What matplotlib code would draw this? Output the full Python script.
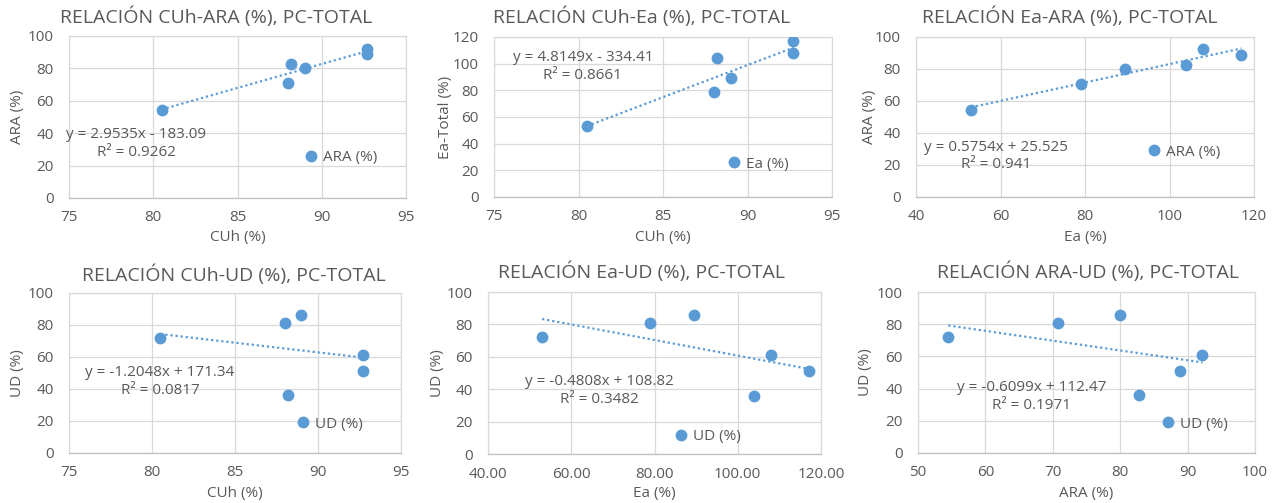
import numpy as np
import matplotlib
matplotlib.use("Agg")
import matplotlib.pyplot as plt

plt.rcParams['font.family'] = ['Open Sans', 'DejaVu Sans']

# values (same 6 samples in every panel)
cuh = [80.5, 88.0, 88.2, 89.0, 92.7, 92.7]
ara = [54.5, 70.8, 82.8, 80.0, 92.2, 88.8]
ea = [53.0, 79.0, 104.0, 89.5, 108.0, 117.0]
ud = [72.0, 81.0, 36.0, 86.0, 61.0, 51.0]

# trendline coefficients shown on the chart
slopes = [2.9535, 4.8149, 0.5754, -1.2048, -0.4808, -0.6099]
intercepts = [-183.09, -334.41, 25.525, 171.34, 108.82, 112.47]
r2_labels = ["0.9262", "0.8661", "0.941", "0.0817", "0.3482", "0.1971"]

titles = ["RELACIÓN CUh-ARA (%), PC-TOTAL", "RELACIÓN CUh-Ea (%), PC-TOTAL",
          "RELACIÓN Ea-ARA (%), PC-TOTAL", "RELACIÓN CUh-UD (%), PC-TOTAL",
          "RELACIÓN Ea-UD (%), PC-TOTAL", "RELACIÓN ARA-UD (%), PC-TOTAL"]
xlabels = ["CUh (%)", "CUh (%)", "Ea (%)", "CUh (%)", "Ea (%)", "ARA (%)"]
ylabels = ["ARA (%)", "Ea-Total (%)", "ARA (%)", "UD (%)", "UD (%)", "UD (%)"]
legend_names = ["ARA (%)", "Ea (%)", "ARA (%)", "UD (%)", "UD (%)", "UD (%)"]
xs = [cuh, cuh, ea, cuh, ea, ara]
ys = [ara, ea, ara, ud, ud, ud]
xlims = [(75, 95, 5), (75, 95, 5), (40, 120, 20), (75, 95, 5), (40, 120, 20), (50, 100, 10)]
ylims = [(0, 100, 20), (0, 120, 20), (0, 100, 20), (0, 100, 20), (0, 100, 20), (0, 100, 20)]

W, H = 1276, 503
# layout in pixels: axes box (left, top, right, bottom), title centre, label centres
boxes = [(69, 36, 406, 198), (494, 37, 832, 197), (916, 37, 1254, 197),
         (69, 293, 401, 453), (488, 292, 821, 454), (918, 292, 1255, 453)]
title_pos = [(216, 17), (642, 17), (1070, 17), (234, 275), (642, 272), (1088, 272)]
ylab_x = [17, 445, 870, 17, 438, 865]
xlab_y = [238, 238, 238, 494, 494, 494]
eq_pos = [(0.20, 0.336), (0.263, 0.816), (0.237, 0.256),
          (0.274, 0.447), (0.333, 0.392), (0.338, 0.351)]
leg_pos = [(0.718, 0.247), (0.710, 0.206), (0.704, 0.281),
           (0.705, 0.181), (0.58, 0.105), (0.742, 0.18)]

blue = '#5B9BD5'
gray = '#595959'
grid = '#D9D9D9'
fs = 11

fig = plt.figure(figsize=(W / 100, H / 100), dpi=100)

for i in range(6):
    l, t, r, b = boxes[i]
    ax = fig.add_axes([l / W, 1 - b / H, (r - l) / W, (b - t) / H])
    x = np.array(xs[i])
    y = np.array(ys[i])
    ax.plot(x, y, 'o', color=blue, ms=7.5, label=legend_names[i], zorder=3)
    xx = np.array([x.min(), x.max()])
    ax.plot(xx, slopes[i] * xx + intercepts[i], color=blue, lw=1.6,
            linestyle=(0, (1, 1.3)), zorder=2)

    x0, x1, dx = xlims[i]
    y0, y1, dy = ylims[i]
    ax.set_xlim(x0, x1)
    ax.set_ylim(y0, y1)
    ax.set_xticks(np.arange(x0, x1 + 0.1, dx))
    ax.set_yticks(np.arange(y0, y1 + 0.1, dy))
    if i == 4:
        ax.set_xticklabels([f"{v:.2f}" for v in np.arange(x0, x1 + 0.1, dx)])
    ax.grid(True, color=grid, lw=0.9)
    ax.set_axisbelow(True)
    for s in ax.spines.values():
        s.set_color(grid)
        s.set_linewidth(0.9)
    ax.spines['bottom'].set_color('#BFBFBF')
    ax.tick_params(length=0, labelsize=fs, labelcolor=gray)
    ax.tick_params(axis='y', pad=11)
    ax.tick_params(axis='x', pad=9)

    xl = ax.set_xlabel(xlabels[i], fontsize=fs, color=gray)
    xl.set_va('center')
    ax.xaxis.set_label_coords(((l + r) / 2) / W, 1 - xlab_y[i] / H, transform=fig.transFigure)
    yl = ax.set_ylabel(ylabels[i], fontsize=fs, color=gray)
    yl.set_va('center')
    ax.yaxis.set_label_coords(ylab_x[i] / W, 1 - ((t + b) / 2) / H, transform=fig.transFigure)

    sign = '+' if intercepts[i] >= 0 else '-'
    eq = f"y = {slopes[i]}x {sign} {abs(intercepts[i])}\nR² = {r2_labels[i]}"
    ax.text(eq_pos[i][0], eq_pos[i][1], eq, transform=ax.transAxes, ha='center',
            va='center', multialignment='center', fontsize=fs, color=gray,
            linespacing=1.2)

    lx, ly = leg_pos[i]
    ax.legend(loc='center left', bbox_to_anchor=(lx - 0.5 * fs / ((r - l) * 0.72), ly),
              frameon=False, handlelength=1.0, handletextpad=0.3, borderpad=0,
              borderaxespad=0, fontsize=fs, labelcolor=gray, markerscale=1.0)

    fig.text(title_pos[i][0] / W, 1 - title_pos[i][1] / H, titles[i], ha='center',
             va='center', fontsize=14, color=gray)

fig.savefig('out.png', dpi=100)
